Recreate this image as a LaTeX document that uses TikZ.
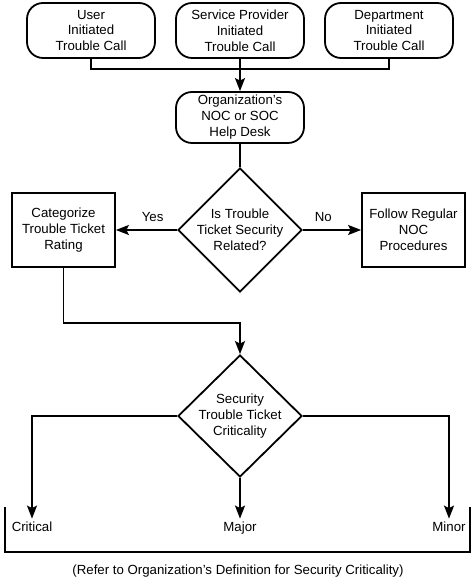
\documentclass[tikz,border=0pt]{standalone}
\usepackage{fontspec}
\setmainfont{Liberation Sans}
\usetikzlibrary{arrows.meta, shapes.geometric}

\begin{document}
\begin{tikzpicture}[
    x=1bp, y=1bp,
    font=\fontsize{13.3}{16}\selectfont,
    line width=1.8bp,
    call/.style={draw, rounded corners=16bp, minimum width=128bp, minimum height=55bp, inner sep=0pt, align=center},
    task/.style={draw, minimum width=103bp, minimum height=74bp, inner sep=0pt, align=center},
    decision/.style={draw, diamond, minimum width=124bp, minimum height=124bp, inner sep=0pt},
    flow/.style={-{Stealth[length=13bp, width=10bp, inset=2.5bp]}},
    answer/.style={above, inner sep=5bp, text depth=2.5bp},
    outcome/.style={anchor=base, inner sep=3bp, text height=9.5bp, text depth=2.5bp}
]
\useasboundingbox (0, 0) rectangle (475, 580);

% ---------------------------------------------------------------
%  Trouble call -> help desk -> security check -> criticality
% ---------------------------------------------------------------

% Eingehende Meldungen
\node[call] (user)     at (91, 549.5)  {User\\Initiated\\Trouble Call};
\node[call] (provider) at (240, 549.5) {Service Provider\\Initiated\\Trouble Call};
\node[call] (dept)     at (389, 549.5) {Department\\Initiated\\Trouble Call};
\node[call, minimum height=51bp] (noc) at (240, 462.5) {Organization’s\\NOC or SOC\\Help Desk};

\coordinate (merge) at (240, 511);
\draw (user.south) |- (merge);
\draw (dept.south) |- (merge);
\draw[flow] (provider.south) -- (noc.north);

% Sicherheitsfrage
\node[decision] (secq) at (240, 350) {};
\node[align=center] (secqtext) at (secq) {Is Trouble\\Ticket Security\\Related?};
\node[task] (categ)  at (63.5, 350)  {Categorize\\Trouble Ticket\\Rating};
\node[task] (follow) at (413.5, 350) {Follow Regular\\NOC\\Procedures};

\draw (noc.south) -- (secq.north);
\draw[flow] (secq.west) -- (categ.east) node[answer, pos=0.4] {Yes};
\draw[flow] (secq.east) -- (follow.west) node[answer, pos=0.35] {No};

% Kritikalitaet
\node[decision, minimum height=122bp] (crit) at (240, 164) {};
\node[align=center] (crittext) at (crit) {Security\\Trouble Ticket\\Criticality};

\coordinate (join) at (240, 257);
\draw[flow] (categ.south) |- (join) -- (crit.north);

\node[outcome] (critical) at (32, 48)  {Critical};
\node[outcome] (major)    at (240, 48) {Major};
\node[outcome] (minor)    at (449, 48) {Minor};

\draw[flow] (crit.west) -| (critical.north);
\draw[flow] (crit.south) -- (major.north);
\draw[flow] (crit.east) -| (minor.north);

% Klammer und Hinweis
\draw (5, 73) -- (5, 28) -- (470, 28) -- (470, 73);
\node[anchor=base] (note) at (238, 5) {(Refer to Organization’s Definition for Security Criticality)};

\end{tikzpicture}
\end{document}
